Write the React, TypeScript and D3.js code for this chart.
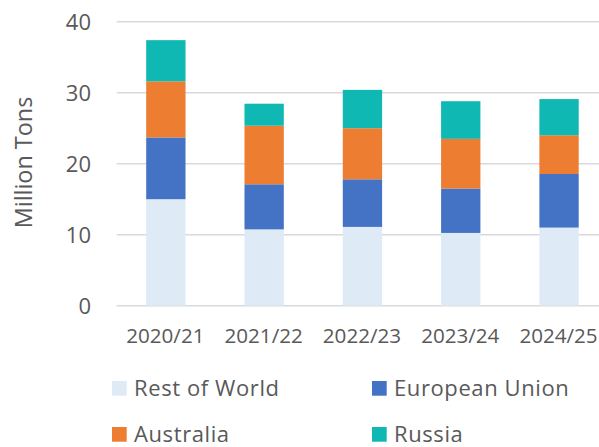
import React from "react";
import * as d3 from "d3";

const categories = ["2020/21", "2021/22", "2022/23", "2023/24", "2024/25"];
const seriesNames = ["Rest of World", "European Union", "Australia", "Russia"];
const restOfWorld = [15.0, 10.75, 11.1, 10.25, 11.0];
const europeanUnion = [8.7, 6.35, 6.7, 6.25, 7.55];
const australia = [7.9, 8.25, 7.2, 7.0, 5.45];
const russia = [5.8, 3.1, 5.4, 5.3, 5.1];
const yTicks = [0, 10, 20, 30, 40];
const colors = ["#DEEBF7", "#4472C4", "#ED7D31", "#10B8B3"];

const W = 599;
const H = 447;
const FONT = "'Open Sans', sans-serif";
const TEXT = "#595959";

export default function App() {
  const rows = categories.map((c, i) => ({
    cat: c,
    "Rest of World": restOfWorld[i],
    "European Union": europeanUnion[i],
    Australia: australia[i],
    Russia: russia[i],
  }));
  const stacked = d3.stack<any>().keys(seriesNames)(rows);

  const y = d3.scaleLinear().domain([0, 40]).range([305.7, 21.7]);
  const x = d3
    .scaleBand()
    .domain(categories)
    .range([116.7, 608.2])
    .paddingInner(0.6)
    .paddingOuter(0.3);

  const legendPos = [
    { x: 112, y: 381 },
    { x: 372, y: 381 },
    { x: 112, y: 427 },
    { x: 372, y: 427 },
  ];

  return (
    <svg
      width={W}
      height={H}
      style={{ position: "absolute", left: 0, top: 0, background: "#fff" }}
      fontFamily={FONT}
    >
      {yTicks.map((t) => (
        <g key={t}>
          <line x1={116.7} x2={W} y1={y(t)} y2={y(t)} stroke="#D9D9D9" strokeWidth={1.5} />
          <text x={91} y={y(t) + 8.5} textAnchor="end" fontSize={22} fill={TEXT}>
            {t}
          </text>
        </g>
      ))}
      {stacked.map((s, si) => (
        <g key={s.key} fill={colors[si]}>
          {s.map((d, i) => (
            <rect
              key={i}
              x={x(categories[i])!}
              width={x.bandwidth()}
              y={y(d[1])}
              height={y(d[0]) - y(d[1])}
            />
          ))}
        </g>
      ))}
      {categories.map((c) => (
        <text
          key={c}
          x={x(c)! + x.bandwidth() / 2 - 0.5}
          y={343.3}
          textAnchor="middle"
          fontSize={20.6}
          fill={TEXT}
        >
          {c}
        </text>
      ))}
      <text
        transform={`translate(31.7,162.5) rotate(-90)`}
        textAnchor="middle"
        fontSize={23.4}
        fill={TEXT}
      >
        Million Tons
      </text>
      {seriesNames.map((n, i) => (
        <g key={n}>
          <rect x={legendPos[i].x} y={legendPos[i].y} width={14.7} height={14.7} fill={colors[i]} />
          <text
            x={legendPos[i].x + 22}
            y={legendPos[i].y + 14.7}
            fontSize={22}
            letterSpacing={0.6}
            fill={TEXT}
          >
            {n}
          </text>
        </g>
      ))}
    </svg>
  );
}
